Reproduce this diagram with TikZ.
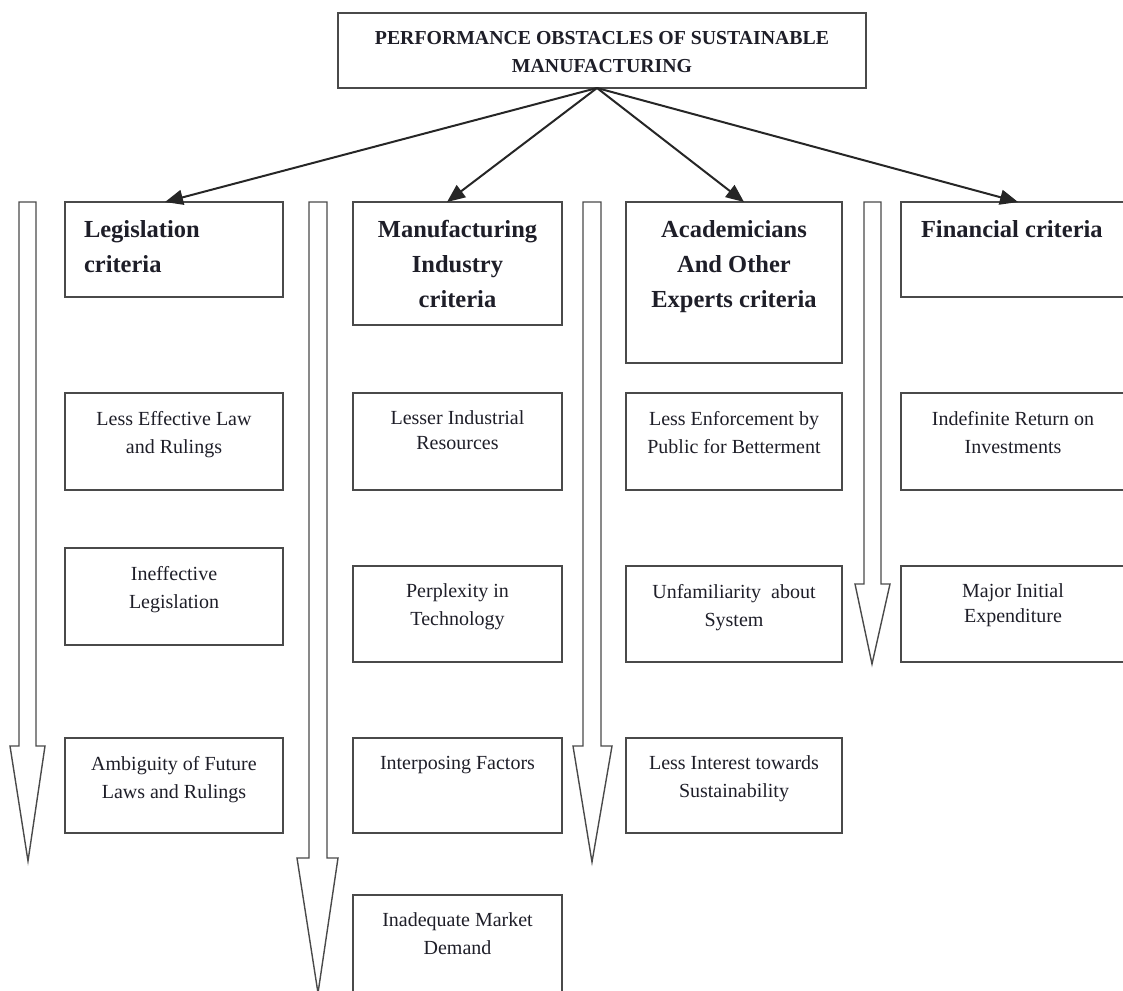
\documentclass[tikz,border=0pt]{standalone}
\usepackage{fontspec}
\setmainfont{Liberation Serif}
\usetikzlibrary{arrows.meta,calc}

\definecolor{boxline}{HTML}{4A4A4A}
\definecolor{inktext}{HTML}{1E1E28}

% text block of given width and height, pushed down from the top edge
\newcommand{\boxtxt}[5]{\parbox[t][#2][t]{#1}{\vspace*{#3}#4#5\par}}

\tikzset{
  frame/.style={draw=boxline, line width=1.4pt, inner sep=0pt, outer sep=0pt,
    anchor=north west, text=inktext},
  titlefont/.style={font=\fontsize{19.8}{28}\selectfont\bfseries},
  headfont/.style={font=\fontsize{24.5}{35}\selectfont\bfseries},
  itemfont/.style={font=\fontsize{20}{28}\selectfont},
  conn/.style={draw=black!85, line width=2pt,
    -{Triangle[length=18pt,width=15pt]}},
  blockarrow/.style={draw=boxline, line width=1.4pt, fill=white, line join=miter},
}

\begin{document}
\begin{tikzpicture}[x=1pt,y=-1pt]
\useasboundingbox (0,0) rectangle (1123,990);
\clip (0,0) rectangle (1123,990);

% ---------- title ----------
\node[frame,titlefont] (title) at (338,13)
  {\boxtxt{528pt}{75pt}{18pt}{\centering}{PERFORMANCE OBSTACLES OF SUSTAINABLE\\MANUFACTURING}};

% ---------- column headers ----------
\node[frame,headfont] (h1) at (65,202)
  {\boxtxt{218pt}{95pt}{18.5pt}{\raggedright\leftskip=19pt}{Legislation\\criteria}};
\node[frame,headfont] (h2) at (353,202)
  {\boxtxt{209pt}{123pt}{18.5pt}{\centering}{Manufacturing\\Industry\\criteria}};
\node[frame,headfont] (h3) at (626,202)
  {\boxtxt{216pt}{161pt}{18.5pt}{\centering}{Academicians\\And Other\\Experts criteria}};
\node[frame,headfont] (h4) at (901,202)
  {\boxtxt{226pt}{95pt}{18.5pt}{\raggedright\leftskip=20pt}{Financial criteria}};

% ---------- connectors from the title ----------
\coordinate (hub) at (597,88);
\draw[conn] (hub) -- (165,202);
\draw[conn] (hub) -- (447,202);
\draw[conn] (hub) -- (744,202);
\draw[conn] (hub) -- (1018,202);

% ---------- legislation column ----------
\node[frame,itemfont] (l1) at (65,393)
  {\boxtxt{218pt}{97pt}{18pt}{\centering}{Less Effective Law\\and Rulings}};
\node[frame,itemfont] (l2) at (65,548)
  {\boxtxt{218pt}{97pt}{18pt}{\centering}{Ineffective\\Legislation}};
\node[frame,itemfont] (l3) at (65,738)
  {\boxtxt{218pt}{95pt}{18pt}{\centering}{Ambiguity of Future\\Laws and Rulings}};

% ---------- manufacturing industry column ----------
\node[frame,font=\fontsize{20}{24.5}\selectfont] (m1) at (353,393)
  {\boxtxt{209pt}{97pt}{18pt}{\centering}{Lesser Industrial\\Resources}};
\node[frame,itemfont] (m2) at (353,566)
  {\boxtxt{209pt}{96pt}{18pt}{\centering}{Perplexity in\\Technology}};
\node[frame,itemfont] (m3) at (353,738)
  {\boxtxt{209pt}{95pt}{18pt}{\centering}{Interposing Factors}};
\node[frame,itemfont] (m4) at (353,895)
  {\boxtxt{209pt}{105pt}{18pt}{\centering}{Inadequate Market\\Demand}};

% ---------- academicians column ----------
\node[frame,itemfont] (a1) at (626,393)
  {\boxtxt{216pt}{97pt}{18pt}{\centering}{Less Enforcement by\\Public for Betterment}};
\node[frame,itemfont] (a2) at (626,566)
  {\boxtxt{216pt}{96pt}{18pt}{\centering}{Unfamiliarity\ \ about\\System}};
\node[frame,itemfont] (a3) at (626,738)
  {\boxtxt{216pt}{95pt}{18pt}{\centering}{Less Interest towards\\Sustainability}};

% ---------- financial column ----------
\node[frame,itemfont] (f1) at (901,393)
  {\boxtxt{224pt}{97pt}{18pt}{\centering}{Indefinite Return on\\Investments}};
\node[frame,font=\fontsize{20}{24.5}\selectfont] (f2) at (901,566)
  {\boxtxt{224pt}{96pt}{18pt}{\centering}{Major Initial\\Expenditure}};

% ---------- hollow downward block arrows ----------
\draw[blockarrow] (19,202) -- (36,202) -- (36,746) -- (45,746) -- (28,861)
  -- (10,746) -- (19,746) -- cycle;
\draw[blockarrow] (309,202) -- (327,202) -- (327,858) -- (338,858) -- (318,993)
  -- (297,858) -- (309,858) -- cycle;
\draw[blockarrow] (583,202) -- (601,202) -- (601,746) -- (612,746) -- (592,862)
  -- (573,746) -- (583,746) -- cycle;
\draw[blockarrow] (864,202) -- (881,202) -- (881,584) -- (890,584) -- (872,664)
  -- (855,584) -- (864,584) -- cycle;
\end{tikzpicture}
\end{document}
